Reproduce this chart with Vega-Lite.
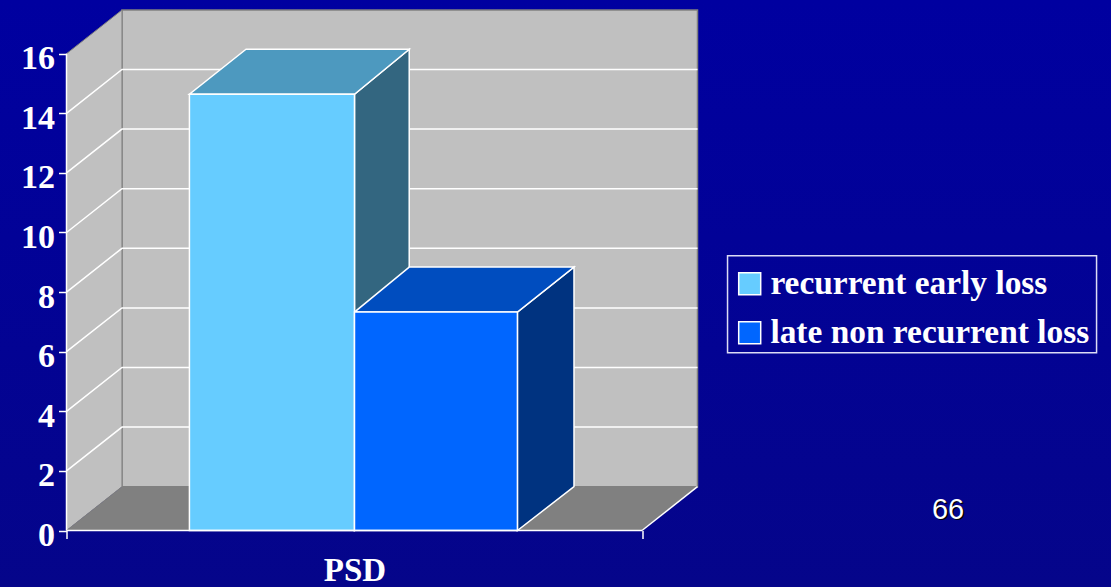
{
  "$schema": "https://vega.github.io/schema/vega-lite/v6.json",
  "width": 631,
  "height": 520.5,
  "autosize": {"type": "none"},
  "padding": {"left": 66.5, "top": 10, "right": 413.5, "bottom": 56.5},
  "background": "#000096",
  "config": {"view": {"stroke": null}, "font": "Liberation Serif"},
  "datasets": {
    "grid": [
      {"level": 2, "x": 0, "y": 2}, {"level": 2, "x": 0.0964, "y": 3.47}, {"level": 2, "x": 1.0964, "y": 3.47},
      {"level": 4, "x": 0, "y": 4}, {"level": 4, "x": 0.0964, "y": 5.47}, {"level": 4, "x": 1.0964, "y": 5.47},
      {"level": 6, "x": 0, "y": 6}, {"level": 6, "x": 0.0964, "y": 7.47}, {"level": 6, "x": 1.0964, "y": 7.47},
      {"level": 8, "x": 0, "y": 8}, {"level": 8, "x": 0.0964, "y": 9.47}, {"level": 8, "x": 1.0964, "y": 9.47},
      {"level": 10, "x": 0, "y": 10}, {"level": 10, "x": 0.0964, "y": 11.47}, {"level": 10, "x": 1.0964, "y": 11.47},
      {"level": 12, "x": 0, "y": 12}, {"level": 12, "x": 0.0964, "y": 13.47}, {"level": 12, "x": 1.0964, "y": 13.47},
      {"level": 14, "x": 0, "y": 14}, {"level": 14, "x": 0.0964, "y": 15.47}, {"level": 14, "x": 1.0964, "y": 15.47}
    ],
    "bars": [
      {"series": "recurrent early loss", "x": 0.2136, "x2": 0.5004, "y": 14.64, "y2": 0},
      {"series": "late non recurrent loss", "x": 0.5004, "x2": 0.7835, "y": 7.33, "y2": 0}
    ],
    "tops": [
      {"series": "recurrent early loss", "y": 14.64, "x": 0.2136, "x2": 0.5004},
      {"series": "recurrent early loss", "y": 16.15, "x": 0.3119, "x2": 0.5955},
      {"series": "late non recurrent loss", "y": 7.33, "x": 0.5004, "x2": 0.7835},
      {"series": "late non recurrent loss", "y": 8.84, "x": 0.5955, "x2": 0.8818}
    ],
    "sides": [
      {"series": "recurrent early loss", "x": 0.5004, "y": 14.64, "y2": 0},
      {"series": "recurrent early loss", "x": 0.5955, "y": 16.15, "y2": 1.47},
      {"series": "late non recurrent loss", "x": 0.7835, "y": 7.33, "y2": 0},
      {"series": "late non recurrent loss", "x": 0.8818, "y": 8.84, "y2": 1.47}
    ],
    "edges": [
      {"edge": "value axis", "x": 0, "y": 0}, {"edge": "value axis", "x": 0, "y": 16},
      {"edge": "category axis", "x": 0, "y": 0}, {"edge": "category axis", "x": 1, "y": 0},
      {"edge": "floor right", "x": 1, "y": 0}, {"edge": "floor right", "x": 1.0964, "y": 1.47}
    ]
  },
  "encoding": {
    "x": {
      "field": "x",
      "type": "quantitative",
      "scale": {"domain": [0, 1.0964], "nice": false, "zero": false},
      "axis": {
        "values": [0, 1],
        "labels": false,
        "domain": false,
        "grid": false,
        "ticks": true,
        "tickColor": "#ffffff",
        "tickSize": 8,
        "tickWidth": 1.5,
        "zindex": 1,
        "title": "PSD",
        "titleFont": "Liberation Serif",
        "titleFontSize": 33,
        "titleFontWeight": "bold",
        "titleColor": "#ffffff",
        "titleX": 288,
        "titleY": 50,
        "titleBaseline": "alphabetic"
      }
    },
    "y": {
      "field": "y",
      "type": "quantitative",
      "scale": {"domain": [0, 17.466], "nice": false, "zero": false},
      "axis": {
        "values": [0, 2, 4, 6, 8, 10, 12, 14, 16],
        "domain": false,
        "grid": false,
        "title": null,
        "format": "d",
        "tickColor": "#ffffff",
        "tickSize": 8,
        "tickWidth": 1.5,
        "labelFont": "Liberation Serif",
        "labelFontSize": 34,
        "labelFontWeight": "bold",
        "labelColor": "#ffffff",
        "labelPadding": 4,
        "labelOffset": 5,
        "zindex": 1
      }
    }
  },
  "resolve": {"scale": {"color": "independent"}},
  "layer": [
    {
      "data": {"values": [{"x": -0.1156, "x2": 1.815, "y": 17.8, "y2": -1.896}]},
      "mark": {
        "type": "rect",
        "fill": {
          "gradient": "linear",
          "x1": 0, "y1": 0, "x2": 0, "y2": 1,
          "stops": [{"offset": 0, "color": "#0000a0"}, {"offset": 1, "color": "#05058a"}]
        }
      },
      "encoding": {"x2": {"field": "x2"}, "y2": {"field": "y2"}}
    },
    {
      "data": {"values": [{"x": 0.0964, "x2": 1.0964, "y": 17.466, "y2": 1.47}]},
      "mark": {"type": "rect", "fill": "#c0c0c0", "stroke": "#808080", "strokeWidth": 1.5},
      "encoding": {"x2": {"field": "x2"}, "y2": {"field": "y2"}}
    },
    {
      "data": {"values": [{"x": 0, "y": 0, "y2": 16}, {"x": 0.0964, "y": 1.47, "y2": 17.466}]},
      "mark": {"type": "area", "orient": "vertical", "fill": "#c0c0c0", "stroke": "#808080", "strokeWidth": 1},
      "encoding": {"y2": {"field": "y2"}}
    },
    {
      "data": {"values": [{"y": 0, "x": 0, "x2": 1}, {"y": 1.47, "x": 0.0964, "x2": 1.0964}]},
      "mark": {"type": "area", "orient": "horizontal", "fill": "#808080"},
      "encoding": {"x2": {"field": "x2"}}
    },
    {
      "data": {"name": "grid"},
      "mark": {"type": "line", "color": "#ffffff", "strokeWidth": 1.5},
      "encoding": {"detail": {"field": "level"}}
    },
    {
      "data": {"name": "sides"},
      "mark": {"type": "area", "orient": "vertical", "stroke": "#ffffff", "strokeWidth": 1.5},
      "encoding": {
        "y2": {"field": "y2"},
        "color": {
          "field": "series",
          "scale": {"domain": ["recurrent early loss", "late non recurrent loss"], "range": ["#336680", "#003380"]},
          "legend": null
        }
      }
    },
    {
      "data": {"name": "tops"},
      "mark": {"type": "area", "orient": "horizontal", "stroke": "#ffffff", "strokeWidth": 1.5},
      "encoding": {
        "x2": {"field": "x2"},
        "color": {
          "field": "series",
          "scale": {"domain": ["recurrent early loss", "late non recurrent loss"], "range": ["#4d99bf", "#004dbf"]},
          "legend": null
        }
      }
    },
    {
      "data": {"name": "bars"},
      "mark": {"type": "rect", "stroke": "#ffffff", "strokeWidth": 1.5},
      "encoding": {
        "x2": {"field": "x2"},
        "y2": {"field": "y2"},
        "color": {
          "field": "series",
          "scale": {"domain": ["recurrent early loss", "late non recurrent loss"], "range": ["#66ccff", "#0066ff"]},
          "legend": {
            "orient": "none",
            "legendX": 666.5,
            "legendY": 257,
            "title": null,
            "padding": 0,
            "symbolType": "square",
            "symbolSize": 484,
            "symbolStrokeColor": "#ffffff",
            "symbolStrokeWidth": 1.5,
            "symbolOpacity": 1,
            "labelFont": "Liberation Serif",
            "labelFontSize": 33.4,
            "labelFontWeight": "bold",
            "labelColor": "#ffffff",
            "labelOffset": 4,
            "labelLimit": 400,
            "rowPadding": 14
          }
        }
      }
    },
    {
      "data": {"values": [{"x": 1.1486, "x2": 1.7898, "y": 9.221, "y2": 5.966}]},
      "mark": {"type": "rect", "filled": false, "stroke": "#dcdcf5", "strokeWidth": 1.5},
      "encoding": {"x2": {"field": "x2"}, "y2": {"field": "y2"}}
    },
    {
      "data": {"name": "edges"},
      "mark": {"type": "line", "color": "#ffffff", "strokeWidth": 1.5},
      "encoding": {"detail": {"field": "edge"}}
    },
    {
      "data": {"values": [{"page": "66", "x": 1.5317, "y": 0.386}]},
      "mark": {"type": "text", "font": "Liberation Sans", "fontSize": 29, "color": "#000000", "dx": 1.5, "dy": 1.5, "baseline": "alphabetic", "align": "center"},
      "encoding": {"text": {"field": "page"}}
    },
    {
      "data": {"values": [{"page": "66", "x": 1.5317, "y": 0.386}]},
      "mark": {"type": "text", "font": "Liberation Sans", "fontSize": 29, "color": "#ffffff", "baseline": "alphabetic", "align": "center"},
      "encoding": {"text": {"field": "page"}}
    }
  ]
}
